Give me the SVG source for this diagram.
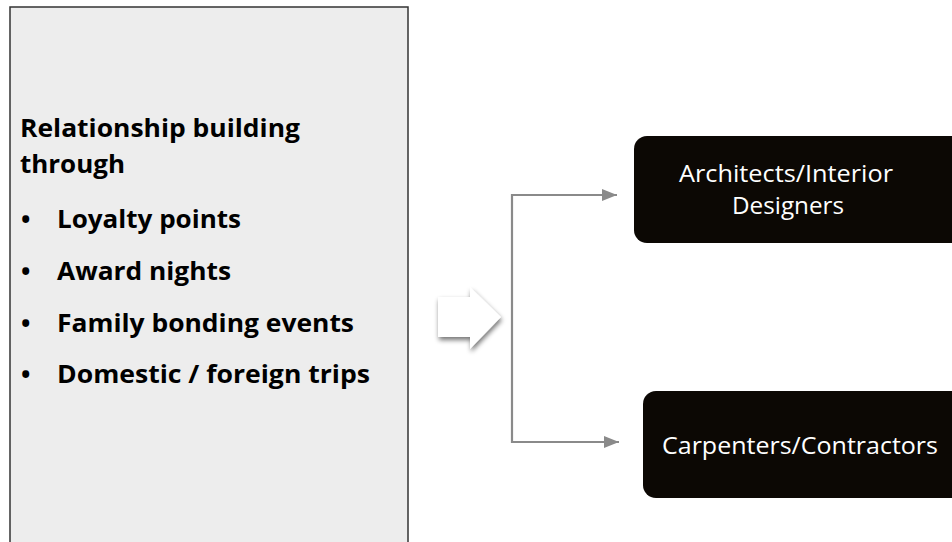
<svg xmlns="http://www.w3.org/2000/svg" width="952" height="542" viewBox="0 0 952 542">
  <defs>
    <style>
      .bold { font-family: "Open Sans", "Liberation Sans", sans-serif; font-weight: 700; font-size: 25px; fill: #000; }
      .label { font-family: "Open Sans", "Liberation Sans", sans-serif; font-size: 24.5px; fill: #fff; text-anchor: middle; }
      .dark { fill: #0c0804; }
      .link { fill: none; stroke: #8a8a8a; stroke-width: 2.2; }
    </style>
    <marker id="tip" viewBox="0 0 15 12" refX="15" refY="6" markerWidth="15" markerHeight="12" markerUnits="userSpaceOnUse" orient="auto">
      <path d="M0,0 L15,6 L0,12 Z" fill="#8a8a8a"/>
    </marker>
    <filter id="shade" x="-40%" y="-40%" width="180%" height="180%">
      <feGaussianBlur in="SourceAlpha" stdDeviation="2.5"/>
      <feOffset dx="1" dy="3" result="b"/>
      <feComponentTransfer><feFuncA type="linear" slope="0.55"/></feComponentTransfer>
      <feMerge><feMergeNode/><feMergeNode in="SourceGraphic"/></feMerge>
    </filter>
  </defs>

  <rect width="952" height="542" fill="#fff"/>

  <!-- left panel with bullet list -->
  <g id="relationship">
    <rect x="10" y="7" width="398" height="545" fill="#ededed" stroke="#333" stroke-width="1.5"/>
    <text class="bold" x="20" y="137" textLength="280" lengthAdjust="spacingAndGlyphs">Relationship building</text>
    <text class="bold" x="20" y="173" textLength="105" lengthAdjust="spacingAndGlyphs">through</text>
    <g class="bold">
      <text x="21" y="228">•</text>
      <text x="57" y="228" textLength="184" lengthAdjust="spacingAndGlyphs">Loyalty points</text>
      <text x="21" y="280">•</text>
      <text x="57" y="280" textLength="174" lengthAdjust="spacingAndGlyphs">Award nights</text>
      <text x="21" y="332">•</text>
      <text x="57" y="332" textLength="297" lengthAdjust="spacingAndGlyphs">Family bonding events</text>
      <text x="21" y="383">•</text>
      <text x="57" y="383" textLength="313" lengthAdjust="spacingAndGlyphs">Domestic / foreign trips</text>
    </g>
  </g>

  <!-- block arrow -->
  <g id="flow-arrow" filter="url(#shade)">
    <path d="M438,297 L470,297 L470,287 L501,317 L470,349 L470,337 L438,337 Z" fill="#fff"/>
  </g>

  <!-- connectors -->
  <g id="connectors">
    <path class="link" d="M512,318 L512,195 L617,195" marker-end="url(#tip)"/>
    <path class="link" d="M512,318 L512,442 L619,442" marker-end="url(#tip)"/>
  </g>

  <g id="architects">
    <rect class="dark" x="634" y="136" width="330" height="107" rx="13"/>
    <text class="label" x="786" y="182" textLength="214" lengthAdjust="spacingAndGlyphs">Architects/Interior</text>
    <text class="label" x="788" y="214" textLength="112" lengthAdjust="spacingAndGlyphs">Designers</text>
  </g>

  <g id="carpenters">
    <rect class="dark" x="643" y="391" width="330" height="107" rx="13"/>
    <text class="label" x="800" y="454" textLength="276" lengthAdjust="spacingAndGlyphs">Carpenters/Contractors</text>
  </g>
</svg>
